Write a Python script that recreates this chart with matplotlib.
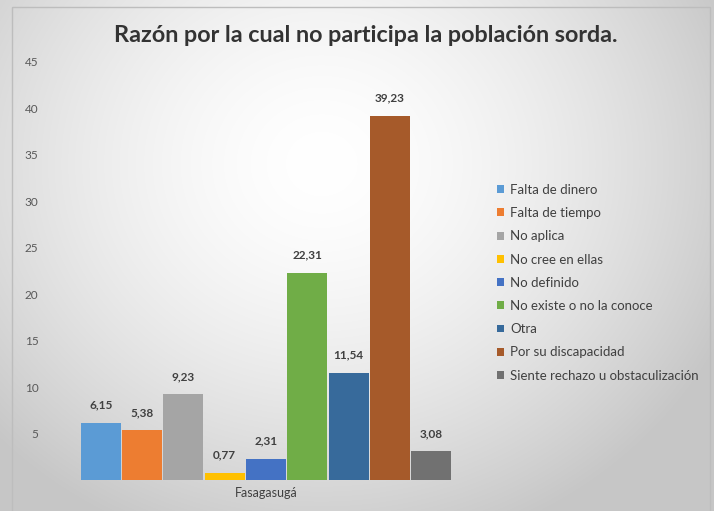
import matplotlib
matplotlib.use("Agg")
import matplotlib.pyplot as plt
import numpy as np
from matplotlib.patches import Rectangle

categories = ["Falta de dinero", "Falta de tiempo", "No aplica", "No cree en ellas",
              "No definido", "No existe o no la conoce", "Otra", "Por su discapacidad",
              "Siente rechazo u obstaculización"]
values = [6.15, 5.38, 9.23, 0.77, 2.31, 22.31, 11.54, 39.23, 3.08]
labels = ["6,15", "5,38", "9,23", "0,77", "2,31", "22,31", "11,54", "39,23", "3,08"]
colors = ["#5B9BD5", "#ED7D31", "#A5A5A5", "#FFC000", "#4472C4", "#70AD47",
          "#376A9B", "#A65A2A", "#717171"]
group = "Fasagasugá"
yticks = [5, 10, 15, 20, 25, 30, 35, 40, 45]

plt.rcParams['font.family'] = ['Lato', 'DejaVu Sans']

W, H = 714, 511
fig = plt.figure(figsize=(W/100, H/100), dpi=100)

# background gradient
bg = fig.add_axes([0, 0, 1, 1], zorder=-10)
yy, xx = np.mgrid[0:H, 0:W]
cx, cy = W*0.45, H*0.32
r = np.sqrt(((xx-cx)/(W*0.62))**2 + ((yy-cy)/(H*0.78))**2)
g = 1.0 - 0.22*np.clip(r, 0, 1)**1.6
img = np.dstack([g, g, g])
bg.imshow(img, aspect='auto', extent=[0, W, H, 0])
bg.set_xlim(0, W); bg.set_ylim(H, 0)
bg.axis('off')
bg.add_patch(Rectangle((12, 7), 698, 510, fill=False, edgecolor='#bdbdbd', lw=1))

ax = fig.add_axes([55/W, 31/H, 422/W, 418/H])
ax.set_facecolor('none')
n = len(values)
w = 41.3/422
for i, (v, c, lab, l) in enumerate(zip(values, colors, categories, labels)):
    x = (i - (n-1)/2) * w
    ax.bar(x, v, width=w*0.97, color=c, label=lab, zorder=2)
    ax.text(x, v + 1.3, l, ha='center', va='bottom', fontsize=8.5,
            fontweight='bold', color='#404040')

ax.set_xlim(-0.5, 0.5)
ax.set_ylim(0, 45)
ax.set_yticks(yticks)
ax.set_yticklabels([str(t) for t in yticks], color='#595959', fontsize=8.5)
ax.set_xticks([0])
ax.set_xticklabels([group], color='#404040', fontsize=9)
ax.tick_params(axis='both', length=0, pad=5)
ax.tick_params(axis='y', pad=12)
for s in ax.spines.values():
    s.set_visible(False)

fig.text(0.512, 1 - 35/H, "Razón por la cual no participa la población sorda.",
         ha='center', va='center', fontsize=16.8, fontweight='bold', color='#333333')

leg = fig.legend(loc='upper left', bbox_to_anchor=(485/W, 1 - 172/H),
                 frameon=False, fontsize=9.5, handlelength=0.55, handleheight=0.55,
                 handletextpad=0.45, labelspacing=0.85, labelcolor='#404040')

fig.savefig("out.png", dpi=100)
